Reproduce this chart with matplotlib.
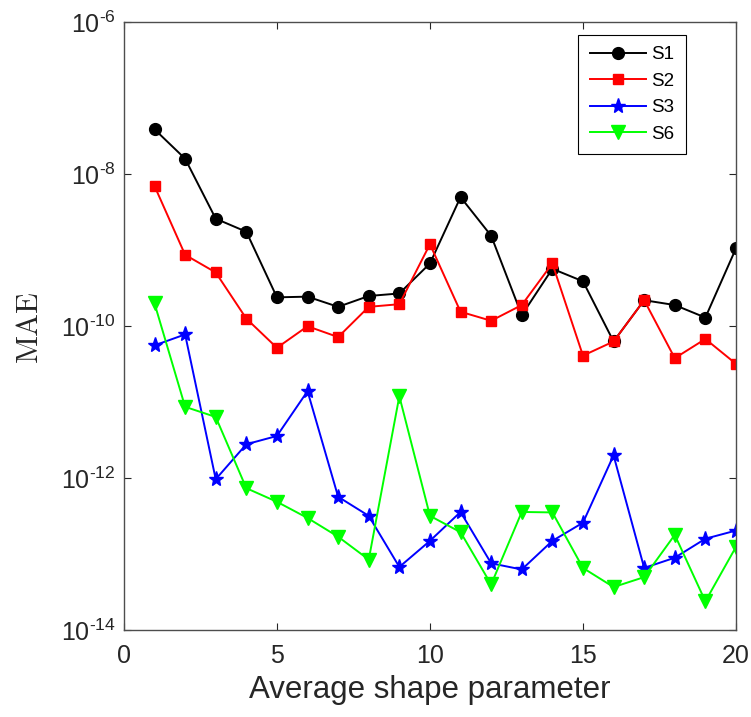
import numpy as np
import matplotlib
matplotlib.use('Agg')
import matplotlib.pyplot as plt

plt.rcParams['font.family'] = ['Liberation Sans', 'DejaVu Sans']
plt.rcParams['mathtext.fontset'] = 'custom'
plt.rcParams['mathtext.rm'] = 'Liberation Sans'
plt.rcParams['mathtext.it'] = 'Liberation Sans'
plt.rcParams['mathtext.bf'] = 'Liberation Sans'

# Data
x = np.arange(1, 21)
s1 = [3.9e-8, 1.6e-8, 2.6e-9, 1.75e-9, 2.4e-10, 2.45e-10, 1.8e-10, 2.5e-10, 2.7e-10, 6.7e-10,
      5.0e-9, 1.55e-9, 1.4e-10, 5.7e-10, 3.9e-10, 6.3e-11, 2.2e-10, 1.9e-10, 1.3e-10, 1.06e-9]
s2 = [7.0e-9, 8.7e-10, 5.1e-10, 1.26e-10, 5.2e-11, 1.0e-10, 7.2e-11, 1.8e-10, 1.95e-10, 1.2e-9,
      1.55e-10, 1.18e-10, 1.9e-10, 6.7e-10, 4.1e-11, 6.3e-11, 2.2e-10, 3.8e-11, 6.8e-11, 3.2e-11]
s3 = [5.6e-11, 7.8e-11, 9.7e-13, 2.8e-12, 3.6e-12, 1.4e-11, 5.7e-13, 3.2e-13, 6.8e-14, 1.5e-13,
      3.6e-13, 7.6e-14, 6.3e-14, 1.5e-13, 2.6e-13, 2.0e-12, 6.6e-14, 9.0e-14, 1.6e-13, 2.05e-13]
s6 = [2.0e-10, 8.7e-12, 6.4e-12, 7.4e-13, 4.9e-13, 3.0e-13, 1.7e-13, 8.5e-14, 1.2e-11, 3.2e-13,
      1.95e-13, 4.0e-14, 3.6e-13, 3.55e-13, 6.6e-14, 3.7e-14, 5.0e-14, 1.8e-13, 2.4e-14, 1.25e-13]

ytick_vals = [1e-14, 1e-12, 1e-10, 1e-8, 1e-6]
ytick_exps = [-14, -12, -10, -8, -6]

fig = plt.figure(figsize=(7.51, 7.17), dpi=100)
ax = fig.add_axes([0.165, 0.121, 0.815, 0.848])

ax.semilogy(x, s1, '-o', color='black', lw=1.4, ms=8.5, label='S1')
ax.semilogy(x, s2, '-s', color='red', lw=1.4, ms=7, label='S2')
ax.semilogy(x, s3, '-*', color='blue', lw=1.4, ms=11, label='S3')
ax.semilogy(x, s6, '-v', color='#00ff00', lw=1.4, ms=9.5, label='S6')

ax.set_xlim(0, 20)
ax.set_ylim(1e-14, 1e-6)
ax.set_xticks([0, 5, 10, 15, 20])
ax.set_yticks(ytick_vals)
ax.set_yticklabels([r'$\mathdefault{10^{\text{-}%d}}$' % (-e) for e in ytick_exps])
ax.minorticks_off()
ax.tick_params(direction='in', length=5, labelsize=18, colors='#262626',
               top=True, right=True, labeltop=False, labelright=False, pad=6)
ax.tick_params(axis='x', pad=10)
for sp in ax.spines.values():
    sp.set_color('#4d4d4d')
    sp.set_linewidth(1.0)

ax.set_xlabel('Average shape parameter', fontsize=22.5, color='#262626', labelpad=5)
ax.set_ylabel('MAE', fontsize=22, family='cmr10', color='#262626')
ax.yaxis.set_label_coords(-0.133, 0.5)

leg = ax.legend(loc='upper right', bbox_to_anchor=(0.918, 0.979), borderaxespad=0,
                fontsize=13.5, fancybox=False, edgecolor='black', framealpha=1,
                handlelength=3.0, handletextpad=0.3, labelspacing=0.5,
                borderpad=0.6)
leg.get_frame().set_linewidth(0.8)

plt.savefig('out.png', dpi=100)
